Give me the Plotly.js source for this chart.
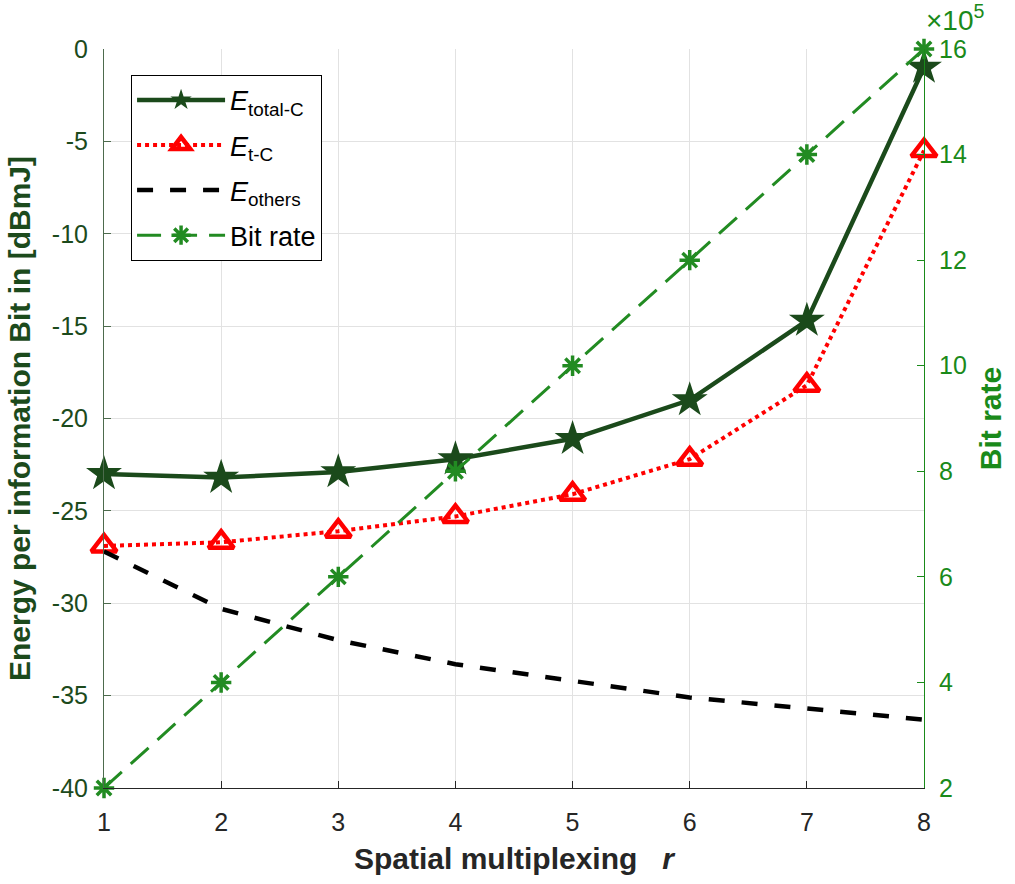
<!DOCTYPE html>
<html>
<head>
<meta charset="utf-8">
<script src="https://cdn.plot.ly/plotly-3.0.1.min.js"></script>
<style>
  html, body { margin: 0; padding: 0; background: #fff; }
  #chart { width: 1015px; height: 884px; }
</style>
</head>
<body>
<div id="chart"></div>
<script>
// Spatial multiplexing factor r
const r = [1, 2, 3, 4, 5, 6, 7, 8];

// Energy per information bit [dBmJ]
const eTotalC = [-23.0, -23.2, -22.9, -22.2, -21.1, -19.0, -14.7, -1.0];
const eTC     = [-26.9, -26.7, -26.1, -25.3, -24.1, -22.2, -18.2, -5.5];
const eOthers = [-27.2, -30.3, -32.0, -33.3, -34.2, -35.1, -35.7, -36.3];

// Bit rate
const bitRate = [2e5, 4e5, 6e5, 8e5, 10e5, 12e5, 14e5, 16e5];

// Right-axis ticks, labelled in units of 10^5
const bitTicks = [2e5, 4e5, 6e5, 8e5, 10e5, 12e5, 14e5, 16e5];
const bitTickText = bitTicks.map(v => String(v / 1e5));

// Left-axis ticks (plain hyphen for negatives)
const leftTicks = [0, -5, -10, -15, -20, -25, -30, -35, -40];
const leftTickText = leftTicks.map(v => String(v));

const darkGreen = '#1c4a1c';
const green = '#1a8a1a';
const font = 'Liberation Sans, Arial, Helvetica, sans-serif';
const tickSize = 25;
const titleSize = 30;

const traces = [
  {
    x: r, y: eTotalC, name: '<i>E</i><sub>total-C</sub>', legendgroup: 'a',
    mode: 'lines+markers', cliponaxis: false,
    line: { color: '#1b4a1b', width: 4.5 },
    marker: { symbol: 'star', size: 27, color: '#1b4a1b', line: { width: 0 } }
  },
  {
    x: r, y: eTC, name: '<i>E</i><sub>t-C</sub>', legendgroup: 'b',
    mode: 'lines+markers', cliponaxis: false,
    line: { color: '#ff0000', width: 4, dash: '4px,4px' },
    marker: { symbol: 'triangle-up-open', size: 22, color: '#ff0000', line: { width: 4.5, color: '#ff0000' } }
  },
  {
    x: r, y: eOthers, name: '<i>E</i><sub>others</sub>', legendgroup: 'c',
    mode: 'lines', cliponaxis: false,
    line: { color: '#000000', width: 4.5, dash: '16px,17px' }
  },
  {
    x: r, y: bitRate, name: 'Bit rate', yaxis: 'y2', legendgroup: 'd',
    mode: 'lines+markers', cliponaxis: false,
    line: { color: '#228b22', width: 3, dash: '24px,12px' },
    marker: { symbol: 'asterisk-open', size: 17, color: '#228b22', line: { width: 3.5, color: '#228b22' } }
  }
];

const layout = {
  width: 1015, height: 884,
  margin: { l: 104, r: 91, t: 49, b: 96 },
  paper_bgcolor: '#ffffff', plot_bgcolor: '#ffffff',
  font: { family: font, size: tickSize, color: '#262626' },
  showlegend: true,
  legend: {
    x: 0.033, y: 0.965, xanchor: 'left', yanchor: 'top',
    bgcolor: '#ffffff', bordercolor: '#000000', borderwidth: 1,
    font: { family: font, size: 27, color: '#000000' },
    itemwidth: 88, tracegroupgap: 7
  },
  xaxis: {
    range: [1, 8], tickvals: r, ticks: 'inside', ticklen: 7,
    tickcolor: '#262626', linecolor: '#262626', linewidth: 1, showline: true,
    showgrid: true, gridcolor: '#e2e2e2', gridwidth: 1, zeroline: false,
    ticklabelstandoff: 12,
    tickfont: { family: font, size: tickSize, color: '#262626' },
    title: { text: '<b>Spatial multiplexing</b>   <b><i>r</i></b>', font: { family: font, size: titleSize, color: '#262626' }, standoff: 12 }
  },
  yaxis: {
    range: [-40, 0], tickvals: leftTicks, ticktext: leftTickText, ticks: 'inside', ticklen: 7,
    tickcolor: '#4d6b4d', linecolor: '#4d6b4d', linewidth: 1, showline: true,
    showgrid: true, gridcolor: '#e2e2e2', gridwidth: 1, zeroline: false,
    ticklabelstandoff: 10,
    tickfont: { family: font, size: tickSize, color: darkGreen },
    title: { text: '<b>Energy per information Bit in [dBmJ]</b>', font: { family: font, size: titleSize, color: darkGreen }, standoff: 12 }
  },
  yaxis2: {
    overlaying: 'y', side: 'right', range: [2e5, 16e5],
    tickvals: bitTicks, ticktext: bitTickText, ticks: 'inside', ticklen: 7,
    tickcolor: green, linecolor: green, linewidth: 1, showline: true,
    showgrid: false, zeroline: false,
    ticklabelstandoff: 9,
    tickfont: { family: font, size: tickSize, color: green },
    title: { text: '<b>Bit rate</b>', font: { family: font, size: titleSize, color: green }, standoff: 14 }
  },
  annotations: [
    {
      xref: 'paper', yref: 'paper', x: 1.0, y: 1.0, xanchor: 'left', yanchor: 'bottom',
      xshift: 0, yshift: 11, showarrow: false,
      text: '×10<sup>5</sup>', font: { family: font, size: 28, color: green }
    }
  ]
};

Plotly.newPlot('chart', traces, layout, { displayModeBar: false, staticPlot: true });
</script>
</body>
</html>
